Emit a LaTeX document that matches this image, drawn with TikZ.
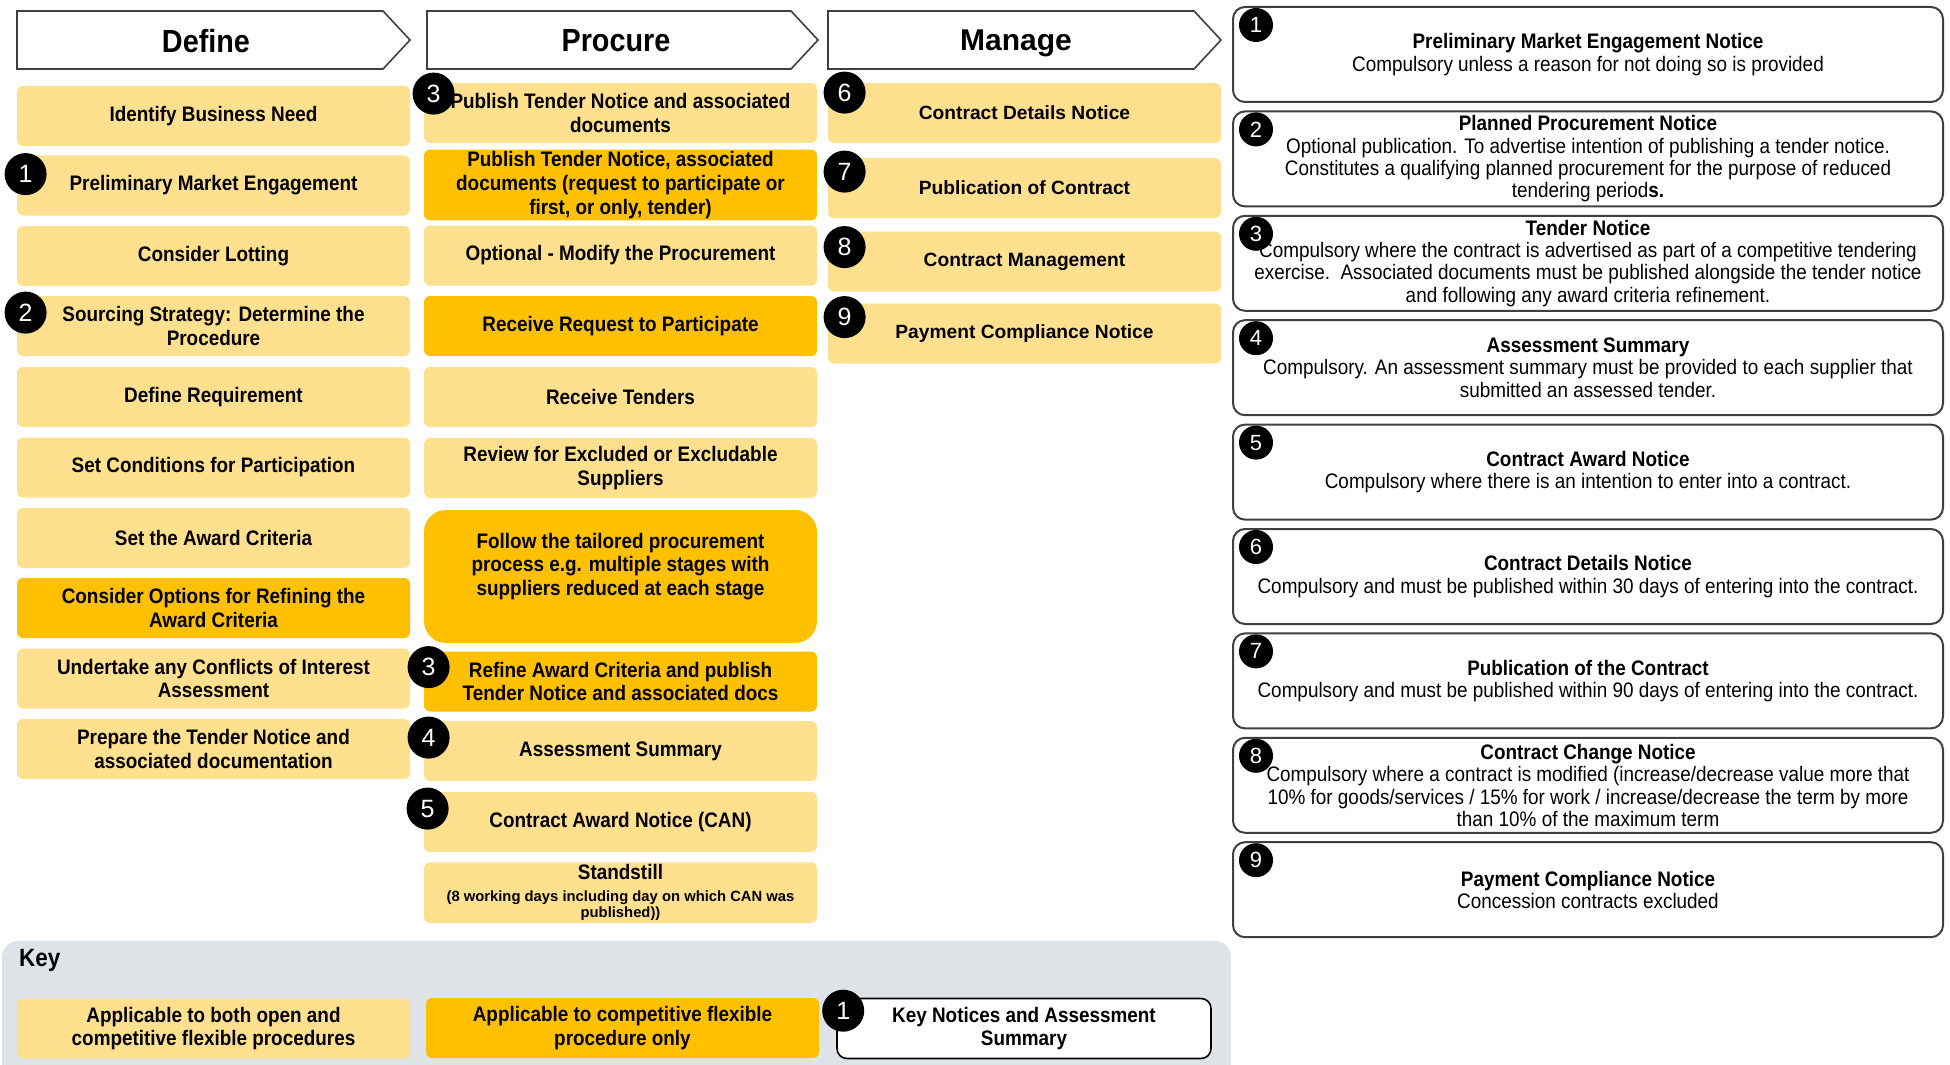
\documentclass[tikz,border=0pt]{standalone}
\usepackage{fontspec}
\setmainfont{Liberation Sans}
\newfontfamily\narrowsf[FakeStretch=0.9]{Liberation Sans}
\usetikzlibrary{positioning}
\definecolor{liteyellow}{HTML}{FFE08F}
\definecolor{darkyellow}{HTML}{FFC000}
\definecolor{keygray}{HTML}{DEE3E8}
\definecolor{linegray}{HTML}{404040}
\newcommand{\smallnote}{\normalfont\bfseries\fontsize{7.4}{8.5}\selectfont}
\tikzset{
	block/.style={
		rectangle,
		align=center,
		minimum width=196.5pt,
		minimum height=30pt,
		inner sep=1pt,
		rounded corners=3pt,
		font=\narrowsf\bfseries\fontsize{10.5}{11.8}\selectfont
	},
	lite/.style={block, fill=liteyellow},
	flex/.style={block, fill=darkyellow},
	wide/.style={lite, font=\bfseries\fontsize{9.6}{11.5}\selectfont},
	notice/.style={
		rectangle,
		draw=linegray,
		line width=1pt,
		rounded corners=6pt,
		align=center,
		minimum width=355pt,
		minimum height=47.5pt,
		inner sep=1pt,
		font=\narrowsf\fontsize{10.5}{11.2}\selectfont
	},
	badge/.style={
		circle,
		fill=black,
		text=white,
		minimum size=21pt,
		inner sep=0pt,
		font=\fontsize{12.5}{12.5}\selectfont
	},
	minibadge/.style={badge, minimum size=17pt, font=\fontsize{11}{11}\selectfont},
	phase/.style={draw=linegray, line width=0.8pt, fill=white},
	phasetext/.style={font=\narrowsf\bfseries\fontsize{16}{16}\selectfont}
}
\begin{document}
\begin{tikzpicture}[x=0.5pt,y=-0.5pt]
	\useasboundingbox (0,0) rectangle (1950,1065);

	\draw[phase] (17,11) -- (383,11) -- (410,40) -- (383,69) -- (17,69) -- cycle;
	\draw[phase] (427,11) -- (791,11) -- (818,40) -- (791,69) -- (427,69) -- cycle;
	\draw[phase] (828,11) -- (1194,11) -- (1221,40) -- (1194,69) -- (828,69) -- cycle;
	\draw node[phasetext] (hdefine) at (206,41) {Define};
	\draw node[phasetext] (hprocure) at (616,41) {Procure};
	\draw node[phasetext, font=\bfseries\fontsize{15}{15}\selectfont] (hmanage) at (1016,43) {Manage};

	\draw node[lite] (def1) at (213.5,116) {Identify Business Need};
	\draw node[lite] (def2) at (213.5,185.5) {Preliminary Market Engagement};
	\draw node[lite] (def3) at (213.5,256) {Consider Lotting};
	\draw node[lite] (def4) at (213.5,326) {Sourcing Strategy: Determine the\\Procedure};
	\draw node[lite] (def5) at (213.5,397) {Define Requirement};
	\draw node[lite] (def6) at (213.5,467.5) {Set Conditions for Participation};
	\draw node[lite] (def7) at (213.5,538) {Set the Award Criteria};
	\draw node[flex] (def8) at (213.5,608) {Consider Options for Refining the\\Award Criteria};
	\draw node[lite] (def9) at (213.5,678.5) {Undertake any Conflicts of Interest\\Assessment};
	\draw node[lite] (def10) at (213.5,749) {Prepare the Tender Notice and\\associated documentation};

	\draw node[lite] (pro1) at (620.5,113) {Publish Tender Notice and associated\\documents};
	\draw node[flex] (pro2) at (620.5,185) {Publish Tender Notice, associated\\documents (request to participate or\\first, or only, tender)};
	\draw node[lite] (pro3) at (620.5,255.5) {Optional - Modify the Procurement};
	\draw node[flex] (pro4) at (620.5,326) {Receive Request to Participate};
	\draw node[lite] (pro5) at (620.5,397) {Receive Tenders};
	\draw node[lite] (pro6) at (620.5,468) {Review for Excluded or Excludable\\Suppliers};
	\draw node[flex, minimum height=66.5pt, rounded corners=11pt] (pro7) at (620.5,576.5) {};
	\draw node[block] (pro7txt) at ([yshift=5pt]pro7.center) {Follow the tailored procurement\\process e.g. multiple stages with\\suppliers reduced at each stage};
	\draw node[flex] (pro8) at (620.5,681.5) {Refine Award Criteria and publish\\Tender Notice and associated docs};
	\draw node[lite] (pro9) at (620.5,751) {Assessment Summary};
	\draw node[lite] (pro10) at (620.5,822) {Contract Award Notice (CAN)};
	\draw node[lite] (pro11) at (620.5,892.5) {Standstill\\[-1pt]\smallnote (8 working days including day on which CAN was\\[-3.5pt]\smallnote published))};

	\draw node[wide] (man1) at (1024.5,113) {Contract Details Notice};
	\draw node[wide] (man2) at (1024.5,188) {Publication of Contract};
	\draw node[wide] (man3) at (1024.5,261.5) {Contract Management};
	\draw node[wide] (man4) at (1024.5,333.5) {Payment Compliance Notice};

	\draw node[badge] (b1) at ([shift={(9,19)}]def2.north west) {1};
	\draw node[badge] (b2) at ([shift={(9,17)}]def4.north west) {2};
	\draw node[badge] (b3) at ([shift={(10,11)}]pro1.north west) {3};
	\draw node[badge] (b3b) at ([shift={(5,16)}]pro8.north west) {3};
	\draw node[badge] (b4) at ([shift={(5,17)}]pro9.north west) {4};
	\draw node[badge] (b5) at ([shift={(4,17)}]pro10.north west) {5};
	\draw node[badge] (b6) at ([shift={(17,10)}]man1.north west) {6};
	\draw node[badge] (b7) at ([shift={(17,14)}]man2.north west) {7};
	\draw node[badge] (b8) at ([shift={(17,16)}]man3.north west) {8};
	\draw node[badge] (b9) at ([shift={(17,14)}]man4.north west) {9};

	\draw node[notice] (not1) at (1588,54.5) {\textbf{Preliminary Market Engagement Notice}\\Compulsory unless a reason for not doing so is provided};
	\draw node[notice] (not2) at (1588,158.9) {\textbf{Planned Procurement Notice}\\Optional publication. To advertise intention of publishing a tender notice.\\Constitutes a qualifying planned procurement for the purpose of reduced\\tendering period\textbf{s.}};
	\draw node[notice] (not3) at (1588,263.3) {\textbf{Tender Notice}\\Compulsory where the contract is advertised as part of a competitive tendering\\exercise.\ \ Associated documents must be published alongside the tender notice\\and following any award criteria refinement.};
	\draw node[notice] (not4) at (1588,367.7) {\textbf{Assessment Summary}\\Compulsory. An assessment summary must be provided to each supplier that\\submitted an assessed tender.};
	\draw node[notice] (not5) at (1588,472.1) {\textbf{Contract Award Notice}\\Compulsory where there is an intention to enter into a contract.};
	\draw node[notice] (not6) at (1588,576.5) {\textbf{Contract Details Notice}\\Compulsory and must be published within 30 days of entering into the contract.};
	\draw node[notice] (not7) at (1588,680.9) {\textbf{Publication of the Contract}\\Compulsory and must be published within 90 days of entering into the contract.};
	\draw node[notice] (not8) at (1588,785.3) {\textbf{Contract Change Notice}\\Compulsory where a contract is modified (increase/decrease value more that\\10\% for goods/services / 15\% for work / increase/decrease the term by more\\than 10\% of the maximum term};
	\draw node[notice] (not9) at (1588,889.7) {\textbf{Payment Compliance Notice}\\Concession contracts excluded};

	\foreach \i in {1,...,9}
		\draw node[minibadge] (nb\i) at ([shift={(24,19)}]not\i.north west) {\i};

	\fill[keygray, rounded corners=8pt] (2,1075) -- (2,941) -- (1231,941) -- (1231,1075);
	\draw node[anchor=west, font=\narrowsf\bfseries\fontsize{12.5}{12.5}\selectfont] (keytitle) at (12,960) {Key};
	\draw node[lite] (key1) at (213.5,1028.5) {Applicable to both open and\\competitive flexible procedures};
	\draw node[flex] (key2) at (622.5,1028) {Applicable to competitive flexible\\procedure only};
	\draw node[block, fill=white, draw=black, line width=0.8pt, rounded corners=5pt, minimum width=187pt] (key3) at (1024,1028.5) {Key Notices and Assessment\\Summary};
	\draw node[badge] (kb1) at ([shift={(7,13)}]key3.north west) {1};
\end{tikzpicture}
\end{document}
